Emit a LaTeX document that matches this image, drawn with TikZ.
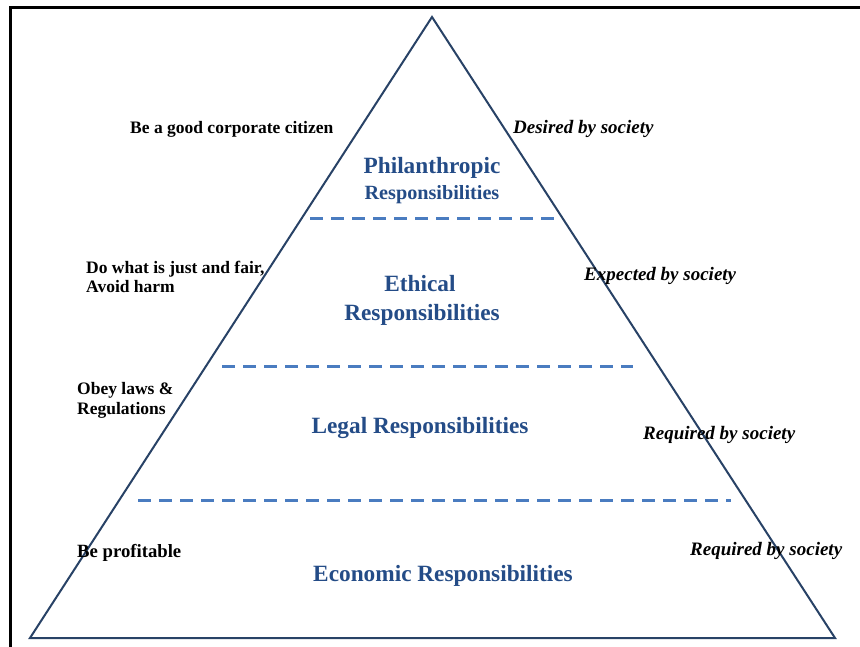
\documentclass[tikz,border=0pt]{standalone}
\usepackage{fontspec}
\setmainfont{Liberation Serif}
\usetikzlibrary{positioning}

\definecolor{pyrline}{RGB}{40,66,102}
\definecolor{dashblue}{RGB}{74,124,192}
\definecolor{layertext}{RGB}{36,76,135}

\begin{document}
\begin{tikzpicture}[x=1pt,y=-1pt,
  side/.style={font=\bfseries\fontsize{17.5}{20}\selectfont,anchor=base west,inner sep=0pt},
  need/.style={font=\bfseries\itshape\fontsize{19}{22}\selectfont,anchor=base west,inner sep=0pt},
  layer/.style={text=layertext,font=\bfseries\fontsize{23.3}{27}\selectfont,anchor=base,inner sep=0pt},
  sublayer/.style={layer,font=\bfseries\fontsize{20.2}{25}\selectfont},
  pyrside/.style={draw=pyrline,line width=2pt,line join=miter},
  divider/.style={draw=dashblue,line width=3pt,dash pattern=on 13pt off 8pt}]
      \useasboundingbox (0,0) rectangle (860,647);
      \fill[white] (0,0) rectangle (860,647);

      % frame
      \draw[line width=3pt] (10,647) -- (10,8) -- (860,8);

      % pyramid
      \coordinate (apex) at (432,17);
      \coordinate (baseL) at (30,638);
      \coordinate (baseR) at (835,638);
      \draw[pyrside] (apex) -- (baseL) -- (baseR) -- cycle;

      \coordinate (d1l) at (310,219);
      \coordinate (d1r) at (558,219);
      \coordinate (d2l) at (222,366);
      \coordinate (d2r) at (633,366);
      \coordinate (d3l) at (138,500);
      \coordinate (d3r) at (731,500);
      \draw[divider] (d1l) -- (d1r);
      \draw[divider] (d2l) -- (d2r);
      \draw[divider] (d3l) -- (d3r);

      % layers
      \node[layer] (phil1) at (432,174) {Philanthropic};
      \node[sublayer] (phil2) at (432,200) {Responsibilities};
      \node[layer] (eth1) at (420,292) {Ethical};
      \node[layer] (eth2) at (422,320) {Responsibilities};
      \node[layer] (legal) at (420,433) {Legal Responsibilities};
      \node[layer] (econ) at (443,581) {Economic Responsibilities};

      % left side
      \node[side] (citizen) at (130,134) {Be a good corporate citizen};
      \node[side] (fair1) at (86,274) {Do what is just and fair,};
      \node[side] (fair2) at (86,293) {Avoid harm};
      \node[side] (laws1) at (77,394) {Obey laws \&};
      \node[side] (laws2) at (77,414) {Regulations};
      \node[side,font=\bfseries\fontsize{18.7}{21}\selectfont] (profit) at (77,557) {Be profitable};

      % right side
      \node[need] (desired) at (513,134) {Desired by society};
      \node[need] (expected) at (584,280) {Expected by society};
      \node[need] (required1) at (643,439) {Required by society};
      \node[need] (required2) at (690,555) {Required by society};
\end{tikzpicture}
\end{document}
